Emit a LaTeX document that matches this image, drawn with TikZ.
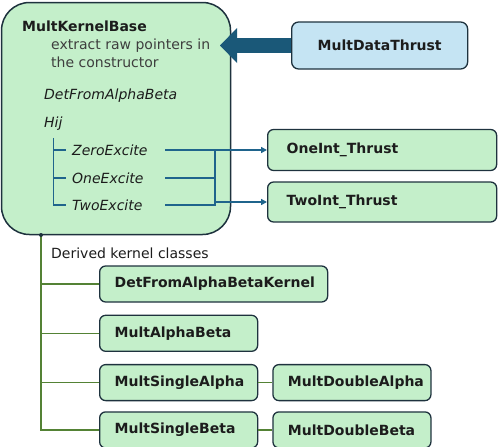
\documentclass[tikz,border=0pt]{standalone}
\usepackage{fontspec}
\setmainfont{DejaVu Sans}
\usetikzlibrary{positioning,arrows.meta}
\definecolor{mint}{RGB}{196,239,202}
\definecolor{skyfill}{RGB}{197,228,243}
\definecolor{edge}{RGB}{30,50,62}
\definecolor{arrowblue}{RGB}{26,88,120}
\definecolor{lineblue}{RGB}{31,100,140}
\definecolor{derivegreen}{RGB}{84,130,53}
\definecolor{ink}{RGB}{28,28,28}

\begin{document}
\begin{tikzpicture}[x=1pt,y=-1pt,
		basebox/.style={draw=edge,fill=mint,line width=1.5pt,rounded corners=28pt,minimum width=229pt,minimum height=232pt},
		kbox/.style={draw=edge,fill=mint,line width=1.3pt,rounded corners=6pt,minimum height=36pt,inner xsep=15pt,inner ysep=0pt,text width=#1,align=left,font=\bfseries,text=ink,anchor=west},
		txt/.style={inner sep=0pt,anchor=west,text=ink},
		excite/.style={txt,text width=93pt,align=left,font=\itshape},
		conn/.style={draw=lineblue,line width=1.5pt},
		derive/.style={draw=derivegreen,line width=1.5pt},
		bigarrow/.style={draw=arrowblue,line width=15pt,-{Triangle[length=17pt,width=35pt,line width=0pt]}}]
		\useasboundingbox (0,0) rectangle (498,447);
		\fontsize{14}{18}\selectfont

		% base class
		\node[basebox]							(base)	at (116,118.5)	{};
		\node[txt,font=\bfseries]				(name)	at (22,26)		{MultKernelBase};
		\node[txt,align=left,text=ink!85]		(note)	at (51,53)		{extract raw pointers in\\the constructor};
		\node[txt,font=\itshape]				(det1)	at (44,96)		{DetFromAlphaBeta};
		\node[txt,font=\itshape]				(hij)	at (44,124)		{Hij};
		\node[excite]							(zero)	at (72,150)		{ZeroExcite};
		\node[excite]							(one)	at (72,178)		{OneExcite};
		\node[excite]							(two)	at (72,205)		{TwoExcite};

		% data and integrals
		\node[kbox=146pt,fill=skyfill,align=center,minimum height=47pt,rounded corners=7pt]	(data)	at (291,45.5)	{MultDataThrust};
		\node[kbox=191pt,inner xsep=19pt,minimum height=41pt]	(oneint)	at (267,150)	{OneInt\_Thrust};
		\node[kbox=191pt,inner xsep=19pt,minimum height=40pt]	(twoint)	at (267,202)	{TwoInt\_Thrust};

		\coordinate (tip) at (220,45.5);
		\draw[bigarrow] (data.west) -- (tip);

		\draw[conn] ([yshift=-7pt]hij.south) |- ([xshift=-6pt]two.west);
		\draw[conn] (hij.south |- zero.west) -- ([xshift=-6pt]zero.west);
		\draw[conn] (hij.south |- one.west) -- ([xshift=-6pt]one.west);

		\coordinate (bus) at (215,150);
		\draw[conn] (zero.east) -- (zero.east -| bus) -- (two.east -| bus) -- (two.east);
		\draw[conn] (one.east) -- (one.east -| bus);
		\draw[conn,-{Triangle[length=6pt,width=6pt]}] (zero.east -| bus) -- (oneint.west);
		\draw[conn,-{Triangle[length=6pt,width=6pt]}] (bus |- twoint.west) -- (twoint.west);

		% derived kernels
		\node[txt]	(derived)	at (51,253)	{Derived kernel classes};
		\node[kbox=198pt]											(det)	at (99,284)	{DetFromAlphaBetaKernel};
		\node[kbox=128pt,below=12pt of det.south west,anchor=north west]	(ab)	{MultAlphaBeta};
		\node[kbox=128pt,below=12pt of ab.south west,anchor=north west]	(sa)	{MultSingleAlpha};
		\node[kbox=128pt,below=10pt of sa.south west,anchor=north west]	(sb)	{MultSingleBeta};
		\node[kbox=128pt,right=14pt of sa]								(da)	{MultDoubleAlpha};
		\node[kbox=128pt,right=14pt of sb]								(db)	{MultDoubleBeta};

		\coordinate (root) at (41,235);
		\draw[derive] (root) |- (det.west);
		\draw[derive] (root) |- (ab.west);
		\draw[derive] (root) |- (sa.west);
		\draw[derive] (root) |- (sb.west);
		\draw[derive] (sa) -- (da);
		\draw[derive] (sb) -- (db);
		\fill[edge] (root) circle (2pt);
	\end{tikzpicture}
\end{document}
